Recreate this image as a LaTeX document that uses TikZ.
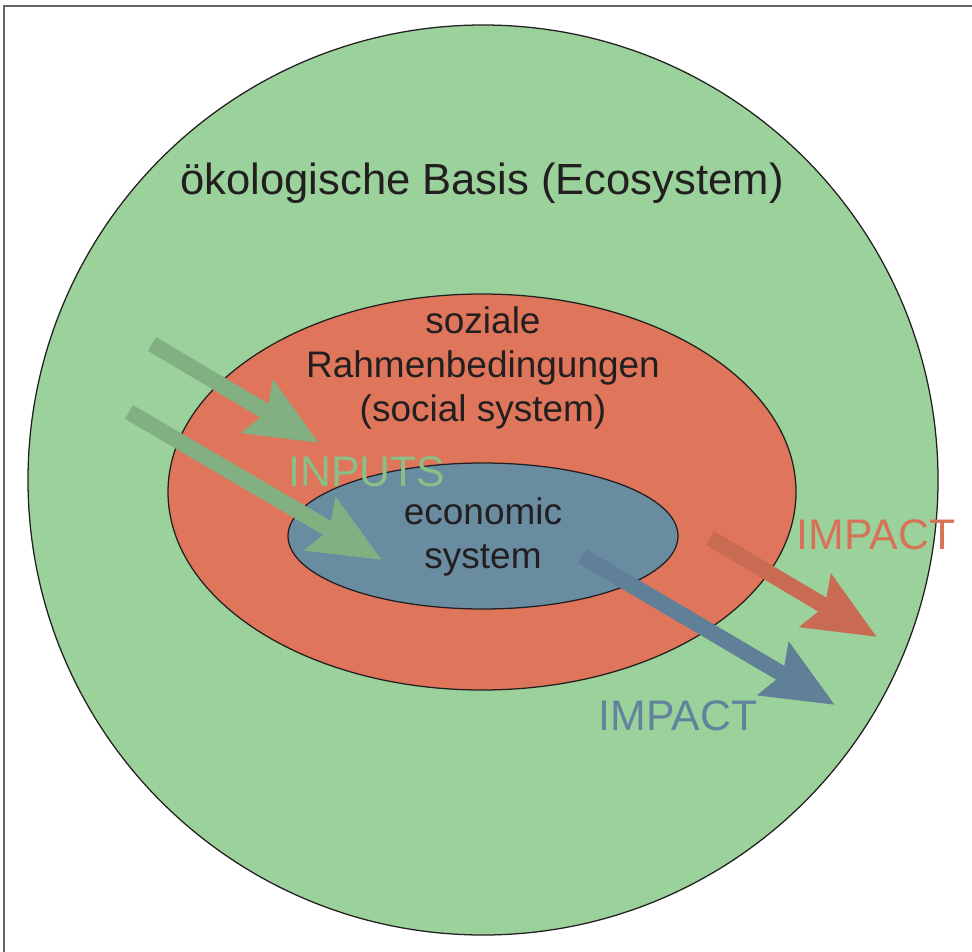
\documentclass[tikz,border=0pt]{standalone}
\usepackage{fontspec}
\setmainfont{Liberation Sans}
\usepackage{tkz-euclide}
\usetikzlibrary{arrows.meta}

\definecolor{ecogreen}{RGB}{155,209,155}
\definecolor{socialred}{RGB}{223,118,91}
\definecolor{econblue}{RGB}{106,140,161}
\definecolor{inarrow}{RGB}{130,176,130}
\definecolor{intext}{RGB}{136,192,136}
\definecolor{redarrow}{RGB}{201,107,82}
\definecolor{redtext}{RGB}{214,114,88}
\definecolor{bluearrow}{RGB}{95,128,150}
\definecolor{bluetext}{RGB}{98,131,158}
\definecolor{inkblack}{RGB}{35,31,32}

\begin{document}
\begin{tikzpicture}[x=0.025cm,y=-0.025cm,
    flow/.style={line width=11.4pt,-{Stealth[length=50pt,width=42pt,inset=7pt]}},
    bigtext/.style={font=\fontsize{30.4}{36}\selectfont,text=inkblack},
    midtext/.style={font=\fontsize{26.3}{31.3}\selectfont,text=inkblack,align=center}]
            \useasboundingbox (0,0) rectangle (972,952);
            \draw[gray!80!black,line width=1.3pt] (4,952) -- (4,6) -- (972,6);
            \filldraw[fill=ecogreen,draw=inkblack,line width=0.9pt] (483,480) circle (455);
            \filldraw[fill=socialred,draw=inkblack,line width=0.9pt] (482,492) ellipse [x radius=314,y radius=198];
            \filldraw[fill=econblue,draw=inkblack,line width=0.9pt] (483,536) ellipse [x radius=195,y radius=73];
            \node[bigtext,font=\fontsize{31}{36}\selectfont] (eco) at (482,183) {ökologische Basis (Ecosystem)};
            \node[midtext] (social) at (483,368) {soziale\\Rahmenbedingungen\\(social system)};
            \node[bigtext,text=intext] (inputs) at (367,472) {INPUTS};
            \node[midtext] (econ) at (483,537) {economic\\system};
            \node[bigtext,text=redtext] (impactr) at (876,535) {IMPACT};
            \node[bigtext,text=bluetext] (impactb) at (678,716) {IMPACT};
            \tkzDefPoints{152/344/A,319/443/B,129/412/C,382/560/D,710/538/E,877/637/F,582/556/G,835/705/H}
            \draw[flow,inarrow] (A) -- (B);
            \draw[flow,inarrow] (C) -- (D);
            \draw[flow,redarrow] (E) -- (F);
            \draw[flow,bluearrow] (G) -- (H);
        \end{tikzpicture}
\end{document}
